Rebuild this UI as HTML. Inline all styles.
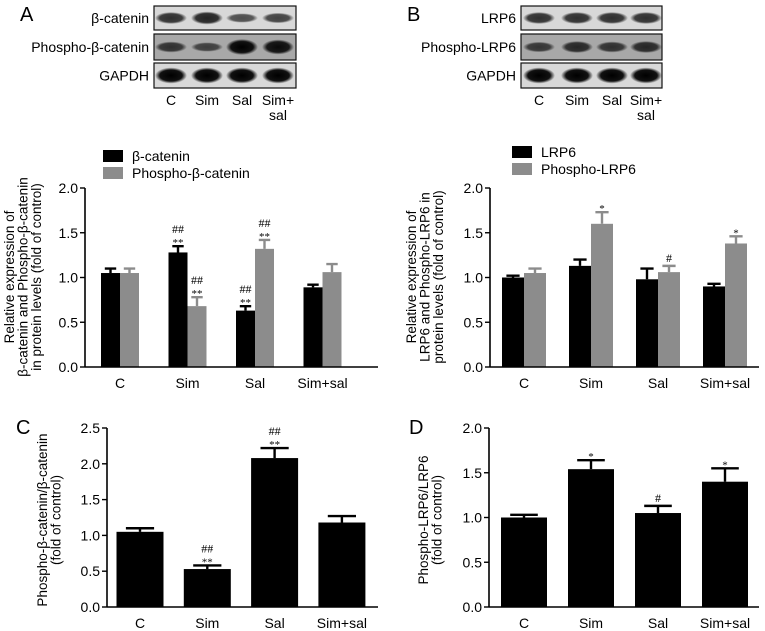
<!DOCTYPE html>
<html><head><meta charset="utf-8"><style>
html,body{margin:0;padding:0;background:#fff;}
svg{display:block;font-family:"Liberation Sans",sans-serif;}
</style></head><body>
<svg id="fig" width="765" height="631" viewBox="0 0 765 631">
<defs>
<radialGradient id="band" cx="50%" cy="50%" r="50%"><stop offset="0" stop-color="#000"/><stop offset="0.7" stop-color="#111"/><stop offset="1" stop-color="#111" stop-opacity="0"/></radialGradient>
</defs>
<g id="blots"></g>
<g id="charts"></g>
</svg>
<script>
// Panel A data
const catsAB = ["C","Sim","Sal","Sim+sal"];
const aBeta = [1.05, 1.28, 0.63, 0.89];
const aBetaErr = [0.05, 0.07, 0.05, 0.03];
const aPhos = [1.05, 0.68, 1.32, 1.06];
const aPhosErr = [0.05, 0.10, 0.10, 0.09];
const aBetaSig = ["", "##\n**", "##\n**", ""];
const aPhosSig = ["", "##\n**", "##\n**", ""];
// Panel B data
const bLrp = [1.00, 1.13, 0.98, 0.90];
const bLrpErr = [0.02, 0.07, 0.12, 0.03];
const bPhos = [1.05, 1.60, 1.06, 1.38];
const bPhosErr = [0.05, 0.13, 0.07, 0.08];
const bLrpSig = ["", "", "", ""];
const bPhosSig = ["", "*", "#", "*"];
// Panel C data
const cVals = [1.05, 0.53, 2.08, 1.18];
const cErr = [0.05, 0.05, 0.14, 0.09];
const cSig = ["", "##\n**", "##\n**", ""];
// Panel D data
const dVals = [1.00, 1.54, 1.05, 1.40];
const dErr = [0.03, 0.10, 0.08, 0.15];
const dSig = ["", "*", "#", "*"];
const ticks20 = [0, 0.5, 1.0, 1.5, 2.0];
const ticks25 = [0, 0.5, 1.0, 1.5, 2.0, 2.5];

const NS = "http://www.w3.org/2000/svg";
const svg = document.getElementById('fig');
const charts = document.getElementById('charts');
const blots = document.getElementById('blots');
function mk(tag, attrs, parent, text){
  const e = document.createElementNS(NS, tag);
  for (const k in attrs) e.setAttribute(k, attrs[k]);
  if (text !== undefined) e.textContent = text;
  (parent || svg).appendChild(e);
  return e;
}

function panelLetter(t, x, y){
  const e = mk('text', {x:x, y:y, 'font-size':20, fill:'#000'}, svg, t);
  
  
}
panelLetter('A', 20, 21);
panelLetter('B', 407, 21);
panelLetter('C', 16, 434);
panelLetter('D', 409, 434);

function drawBlot(name, x0, x1, rows, labels, lanes, intens){
  const g = mk('g', {}, blots);
  
  
  const rowY = [[6,30],[34,60],[63,88]];
  rows.forEach((r, i) => {
    const [y0, y1] = rowY[i];
    const box = mk('rect', {x:x0, y:y0, width:x1-x0, height:y1-y0, fill: i===1 ? '#a8a8a8' : '#d8d8d8', stroke:'#111', 'stroke-width':1.2}, g);
    
    
    const lab = mk('text', {x:x0-5, y:(y0+y1)/2+5, 'text-anchor':'end', 'font-size':14}, g, r);
    
    
    lanes.forEach((cx, j) => {
      const v = intens[i][j];
      const b = mk('ellipse', {cx:cx, cy:(y0+y1)/2, rx:16, ry: 3 + v*5, fill:'url(#band)', opacity: 0.45 + v*0.55}, g);
      
      
    });
  });
  lanes.forEach((cx, j) => {
    const parts = labels[j].split('\n');
    parts.forEach((p, k) => {
      const t = mk('text', {x:cx, y:105 + k*15, 'text-anchor':'middle', 'font-size':14}, g, p);
      
      
    });
  });
}
drawBlot('blot-a', 154, 296, ['β-catenin','Phospho-β-catenin','GAPDH'], ['C','Sim','Sal','Sim+\nsal'], [171,207,242,278],
  [[0.6,0.7,0.35,0.45],[0.5,0.35,1,0.9],[1,1,1,1]]);
drawBlot('blot-b', 521, 662, ['LRP6','Phospho-LRP6','GAPDH'], ['C','Sim','Sal','Sim+\nsal'], [539,577,612,646],
  [[0.6,0.6,0.6,0.6],[0.45,0.6,0.5,0.6],[1,1,1,1]]);

function chart(o){
  const g = mk('g', {}, charts);
  
  
  const y = v => o.y0 - (v / o.ymax) * (o.y0 - o.yTop);
  const ya = mk('line', {x1:o.ax, y1:o.yTop, x2:o.ax, y2:o.y0, stroke:'#000','stroke-width':1.6}, g);
  
  
  o.ticks.forEach(t => {
    mk('line', {x1:o.ax-5, y1:y(t), x2:o.ax, y2:y(t), stroke:'#000','stroke-width':1.4}, g);
    const tl = mk('text', {x:o.ax-7, y:y(t)+5, 'text-anchor':'end','font-size':14}, g, t.toFixed(1));
    
    
  });
  const step = o.step;
  o.series.forEach((s, si) => {
    s.vals.forEach((v, i) => {
      const cx = o.c0 + step * i;
      const bx = o.series.length === 1 ? cx - o.bw/2 : (si === 0 ? cx - o.bw : cx);
      const r = mk('rect', {x:bx, y:y(v), width:o.bw, height:o.y0 - y(v), fill:s.color}, g);
      
      
      const ex = bx + o.bw/2;
      const top = y(v + s.err[i]);
      const e = mk('path', {d:`M${ex},${y(v)} V${top} M${ex-o.bw*0.3},${top} H${ex+o.bw*0.3}`, stroke:s.color, 'stroke-width':2.4, fill:'none'}, g);
      
      
      const sig = s.sig[i];
      if (sig) {
        const lines = sig.split('\n');
        lines.forEach((ln, k) => {
          const ty = top - 4 - (lines.length - 1 - k) * 9 + (ln.indexOf('*')>=0 ? 4 : 0);
          const st = mk('text', {x:ex, y:ty, 'text-anchor':'middle', 'font-size': ln.indexOf('*')>=0 ? 11 : 12, 'font-family':'"Liberation Serif",serif'}, g, ln);
          
          
        });
      }
    });
  });
  const xa = mk('line', {x1:o.ax, y1:o.y0, x2:o.axEnd, y2:o.y0, stroke:'#000','stroke-width':1.6}, g);
  
  
  catsAB.forEach((c, i) => {
    const t = mk('text', {x:o.c0 + step*i, y:o.y0 + 21, 'text-anchor':'middle','font-size':14}, g, c);
    
    
  });
  o.title.forEach((ln, k) => {
    const tx = o.titleX + k * 13.5;
    const t = mk('text', {x:tx, y:o.titleY, 'text-anchor':'middle','font-size':13.5, transform:`rotate(-90 ${tx} ${o.titleY})`}, g, ln);
    
    
  });
  if (o.legend) {
    o.legend.forEach((l, k) => {
      const ly = o.legY + k * 17;
      const sq = mk('rect', {x:o.legX, y:ly, width:20, height:12, fill:o.series[k].color}, g);
      
      
      const lt = mk('text', {x:o.legX + 29, y:ly + 11, 'font-size':14}, g, l);
      
      
    });
  }
}
chart({name:'chart-a', ax:85, axEnd:378, yTop:188, y0:367, ymax:2.0, ticks:ticks20, c0:120, step:67.5, bw:19,
  series:[{key:'beta-catenin', vals:aBeta, err:aBetaErr, sig:aBetaSig, color:'#000'},{key:'phospho-beta-catenin', vals:aPhos, err:aPhosErr, sig:aPhosSig, color:'#8c8c8c'}],
  title:['Relative expression of','β-catenin and Phospho-β-catenin','in protein levels (fold of control)'], titleX:14, titleY:277,
  legend:['β-catenin','Phospho-β-catenin'], legX:103, legY:150});
chart({name:'chart-b', ax:490, axEnd:759, yTop:188, y0:367, ymax:2.0, ticks:ticks20, c0:524, step:67, bw:22,
  series:[{key:'lrp6', vals:bLrp, err:bLrpErr, sig:bLrpSig, color:'#000'},{key:'phospho-lrp6', vals:bPhos, err:bPhosErr, sig:bPhosSig, color:'#8c8c8c'}],
  title:['Relative expression of','LRP6 and Phospho-LRP6 in','protein levels (fold of control)'], titleX:416, titleY:277,
  legend:['LRP6','Phospho-LRP6'], legX:512, legY:146});
chart({name:'chart-c', ax:107, axEnd:378, yTop:428, y0:607, ymax:2.5, ticks:ticks25, c0:140, step:67.3, bw:47,
  series:[{key:'ratio', vals:cVals, err:cErr, sig:cSig, color:'#000'}],
  title:['Phospho-β-catenin/β-catenin','(fold of control)'], titleX:47, titleY:520});
chart({name:'chart-d', ax:489, axEnd:759, yTop:428, y0:607, ymax:2.0, ticks:ticks20, c0:524, step:67, bw:46,
  series:[{key:'ratio', vals:dVals, err:dErr, sig:dSig, color:'#000'}],
  title:['Phospho-LRP6/LRP6','(fold of control)'], titleX:428, titleY:520});
</script>
</body></html>
